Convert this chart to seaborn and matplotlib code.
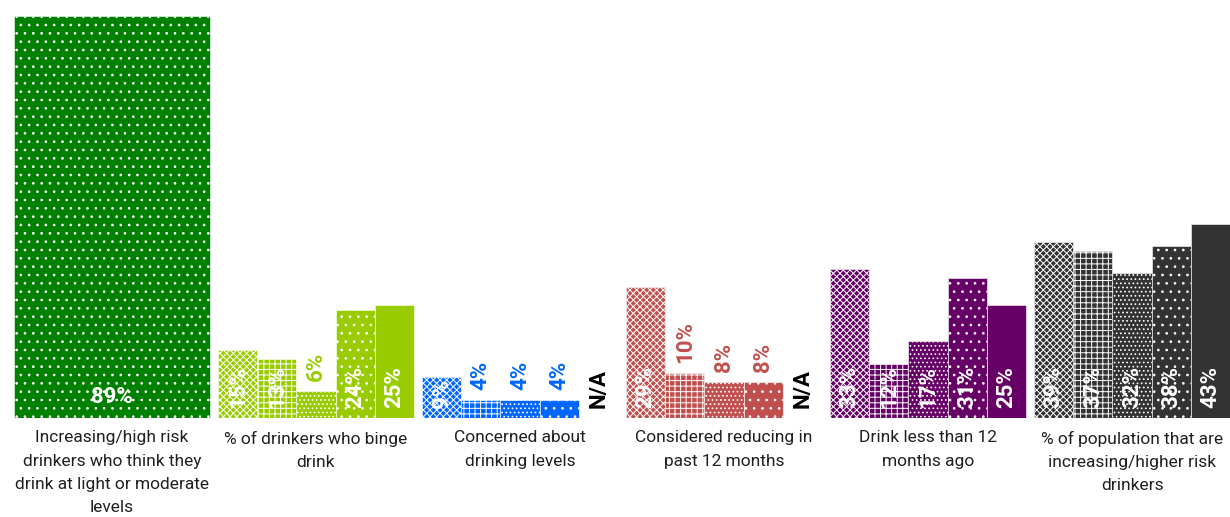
import pandas as pd
import numpy as np
import matplotlib
matplotlib.use("Agg")
import matplotlib.pyplot as plt
import seaborn as sns

### data
categories = [
    "Increasing/high risk\ndrinkers who think they\ndrink at light or moderate\nlevels",
    "% of drinkers who binge\ndrink",
    "Concerned about\ndrinking levels",
    "Considered reducing in\npast 12 months",
    "Drink less than 12\nmonths ago",
    "% of population that are\nincreasing/higher risk\ndrinkers",
]
slot1 = [89, 15, 9, 29, 33, 39]
slot2 = [None, 13, 4, 10, 12, 37]
slot3 = [None, 6, 4, 8, 17, 32]
slot4 = [None, 24, 4, 8, 31, 38]
slot5 = [None, 25, None, None, 25, 43]
slots = ["s1", "s2", "s3", "s4", "s5"]

group_colors = ["#008000", "#99CC00", "#0066FF", "#C0504D", "#660066", "#333333"]
slot_hatches = ["xxxxx", "+++", "....", "..", ""]

rows = []
for s, vals in zip(slots, [slot1, slot2, slot3, slot4, slot5]):
    for c, v in zip(categories, vals):
        rows.append({"measure": c, "slot": s, "value": v})
df = pd.DataFrame(rows)

sns.set_style("white")
plt.rcParams["font.family"] = ["Roboto", "DejaVu Sans"]
plt.rcParams["hatch.linewidth"] = 0.7

fig = plt.figure(figsize=(12.3, 5.17), dpi=100)
ax = fig.add_axes([0.0114, 0.1915, 0.9886, 0.7865])

sns.barplot(data=df, x="measure", y="value", hue="slot", order=categories,
            hue_order=slots, width=0.96, gap=0, dodge=True, legend=False,
            errorbar=None, ax=ax)

### recolour bars by group, pattern by slot
for i, cont in enumerate(ax.containers):
    for bar in cont:
        h = bar.get_height()
        if np.isnan(h):
            continue
        g = int(round(bar.get_x() + bar.get_width() / 2))
        bar.set_facecolor(group_colors[g])
        bar.set_edgecolor("white")
        bar.set_linewidth(0.4)
        bar.set_hatch(slot_hatches[i])
        if g == 0:
            # first measure has a single bar across the whole group
            bar.set_x(-0.48)
            bar.set_width(0.96)
            bar.set_hatch("..")
            ax.annotate(f"{h:.0f}%", (0, 0), xytext=(0, 15), textcoords="offset points",
                        ha="center", va="center", color="white",
                        fontsize=16, fontweight="bold")
            continue
        xc = bar.get_x() + bar.get_width() / 2
        inside = h >= (9 if h < 10 else 12)
        if inside:
            ax.annotate(f"{h:.0f}%", (xc, 0), xytext=(0, 7), textcoords="offset points",
                        ha="center", va="bottom", rotation=90, color="white",
                        fontsize=16, fontweight="bold")
        else:
            ax.annotate(f"{h:.0f}%", (xc, h), xytext=(0, 7), textcoords="offset points",
                        ha="center", va="bottom", rotation=90, color=group_colors[g],
                        fontsize=16, fontweight="bold")

### N/A markers for missing bars
for i, vals in enumerate([slot1, slot2, slot3, slot4, slot5]):
    for g, v in enumerate(vals):
        if v is None and g > 0:
            xc = g - 0.48 + 0.192 * (i + 0.5)
            ax.annotate("N/A", (xc, 0), xytext=(0, 7), textcoords="offset points",
                        ha="center", va="bottom", rotation=90, color="black",
                        fontsize=16, fontweight="bold")

ax.set_xlim(-0.48, 5.48)
ax.set_ylim(0, 90)
ax.set_yticks([])
ax.set_xlabel("")
ax.set_ylabel("")
ax.set_xticks(range(len(categories)))
ax.set_xticklabels(categories, fontsize=12.5, color="#202020", linespacing=1.68)
ax.tick_params(axis="x", length=0, pad=9)
ax.set_xticks([0.5, 2.5, 4.5], minor=True)
ax.tick_params(axis="x", which="minor", length=6, width=1, color="#7f7f7f")
sns.despine(ax=ax, left=True, bottom=True)

fig.savefig("out.png", dpi=100)
